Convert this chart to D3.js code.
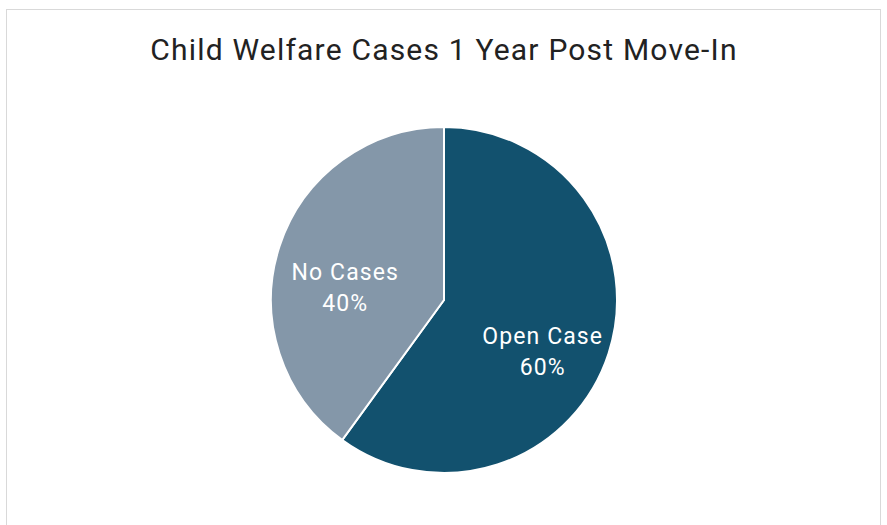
<!DOCTYPE html>
<html>
<head>
<meta charset="utf-8">
<script src="https://cdn.jsdelivr.net/npm/d3@7"></script>
<style>
  html, body { margin: 0; padding: 0; background: #fff; }
  svg { display: block; }
</style>
</head>
<body>
<div id="chart"></div>
<script>
const categories = ["Open Case", "No Cases"];
const values = [60, 40];
const colors = ["#12516e", "#8497a9"];
const title = "Child Welfare Cases 1 Year Post Move-In";

const width = 887, height = 525;
const cx = 444, cy = 300, radius = 173;

const svg = d3.select("#chart")
  .append("svg")
  .attr("width", width)
  .attr("height", height);

// chart frame
svg.append("rect")
  .attr("x", 6.5)
  .attr("y", 9.5)
  .attr("width", 874)
  .attr("height", 530)
  .attr("fill", "#fff")
  .attr("stroke", "#d9d9d9")
  .attr("stroke-width", 1);

svg.append("text")
  .attr("x", cx)
  .attr("y", 60)
  .attr("text-anchor", "middle")
  .attr("font-family", "Roboto, 'Open Sans', sans-serif")
  .attr("font-size", "30px")
  .attr("letter-spacing", "1.2px")
  .attr("fill", "#222")
  .text(title);

const pie = d3.pie().sort(null).value((d) => d.value);
const data = pie(categories.map((c, i) => ({ name: c, value: values[i], color: colors[i] })));

const arc = d3.arc().innerRadius(0).outerRadius(radius);
const labelArc = d3.arc().innerRadius(radius * 0.6).outerRadius(radius * 0.6);

const g = svg.append("g").attr("transform", `translate(${cx},${cy})`);

g.selectAll("path.slice")
  .data(data)
  .join("path")
  .attr("class", "slice")
  .attr("d", arc)
  .attr("fill", (d) => d.data.color)
  .attr("stroke", "#fff")
  .attr("stroke-width", 2);

const labels = g.selectAll("text.label")
  .data(data)
  .join("text")
  .attr("class", "label")
  .attr("transform", (d) => {
    const [x, y] = labelArc.centroid(d);
    return `translate(${x},${y + 21})`;
  })
  .attr("text-anchor", "middle")
  .attr("font-family", "Roboto, 'Open Sans', sans-serif")
  .attr("font-size", "23px")
  .attr("letter-spacing", "1.1px")
  .attr("fill", "#fff");

labels.append("tspan")
  .attr("x", 0)
  .attr("y", -9)
  .text((d) => d.data.name);

labels.append("tspan")
  .attr("x", 0)
  .attr("y", 22)
  .text((d) => `${d.data.value}%`);
</script>
</body>
</html>
